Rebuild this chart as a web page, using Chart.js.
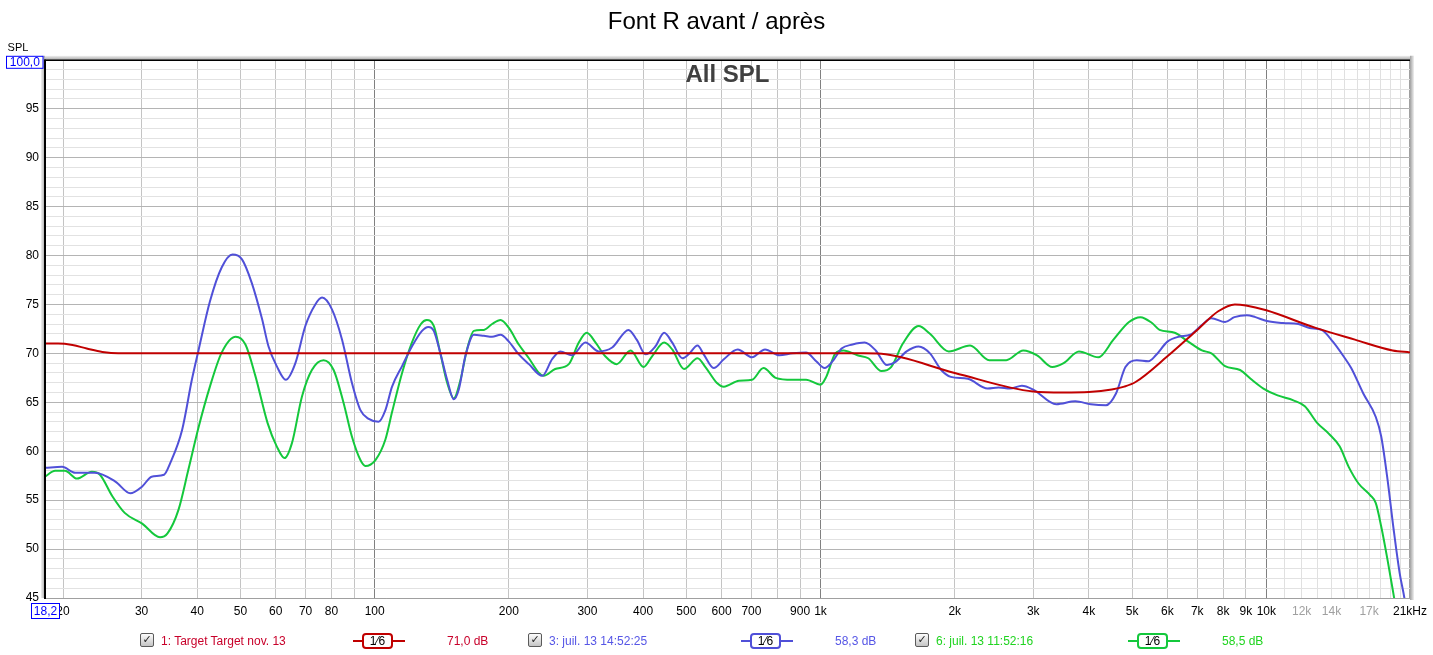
<!DOCTYPE html>
<html><head><meta charset="utf-8">
<script src="https://cdn.jsdelivr.net/npm/chart.js@4.4.0/dist/chart.umd.min.js"></script>
<style>
html,body{margin:0;padding:0;background:#fff;}
#wrap{position:relative;width:1433px;height:655px;overflow:hidden;font-family:"Liberation Sans",Arial,sans-serif;}
#c{position:absolute;left:0;top:0;}
.lt{position:absolute;font-size:12px;line-height:14px;white-space:nowrap;top:634px;}
.cb{position:absolute;top:633px;width:12px;height:12px;border:1px solid #5a5a5a;border-radius:2px;background:linear-gradient(#fdfdfd,#c4c4c4);font:bold 11px "DejaVu Sans",sans-serif;text-align:center;line-height:12px;color:#222;}
.ln{position:absolute;top:640px;height:2px;}
.bx{position:absolute;top:633px;width:27px;height:12px;background:#fff;border:2px solid;border-radius:4px;font-size:12px;line-height:13px;text-align:center;color:#000;}
</style></head>
<body><div id="wrap"><canvas id="c" width="1433" height="655"></canvas></div>
<script>
// ---------- data ----------
const chartTitle = 'Font R avant / après';
const panelLabel = 'All SPL';
const yUnit = 'SPL';
const xMinLabel = '18,2';
const yMaxLabel = '100,0';

const targetFreq = [18.22, 19.5, 21, 22.6, 24.5, 26.6, 1250, 1370, 2000, 3000, 3500, 4000, 4500, 4800, 5100, 6000, 7000, 7800, 8500, 9000, 10000, 12900, 15800, 19200, 21000];
const targetDb   = [71.0, 71.0, 70.85, 70.5, 70.15, 70.0, 70.0, 69.95, 68.0, 66.1, 66.0, 66.05, 66.3, 66.6, 67.1, 69.7, 72.4, 74.3, 75.0, 74.9, 74.4, 72.6, 71.4, 70.3, 70.1];

const blueFreq = [18.22, 19.9, 21.3, 23.6, 26.2, 28.3, 30.1, 31.6, 33.7, 34.8, 37.0, 38.9, 40.3, 42.7, 45.4, 48.0, 50.4, 53.0, 55.9, 57.8, 60.3, 63.2, 66.4, 69.9, 73.6, 76.2, 80.2, 84.5, 88.9, 92.9, 97.0, 102, 105.7, 109.4, 115.2, 121.2, 127.7, 131.9, 135.7, 140.4, 145.4, 150.5, 154.4, 159.7, 166.9, 175.8, 183.4, 191.6, 200, 210.5, 221.8, 237.6, 250, 260.8, 277, 297, 318, 341, 371, 387, 405, 426, 446, 465, 490, 506, 530, 547, 576, 607, 652, 702, 751, 808, 865, 928, 978, 1021, 1065, 1115, 1180, 1256, 1330, 1410, 1470, 1560, 1660, 1760, 1865, 1960, 2140, 2370, 2510, 2660, 2830, 3000, 3380, 3730, 4040, 4370, 4600, 4830, 5120, 5440, 5650, 6000, 6360, 6750, 7170, 7530, 8080, 8480, 9040, 9450, 10030, 10900, 11800, 12500, 13300, 14100, 14900, 15500, 16500, 17600, 18100, 18700, 19300, 19900, 20400, 20700];
const blueDb   = [58.3, 58.4, 57.8, 57.8, 56.9, 55.7, 56.4, 57.4, 57.6, 58.8, 62.2, 67.3, 70.4, 75.3, 78.8, 80.1, 79.6, 77.2, 73.5, 70.7, 68.7, 67.3, 69.0, 72.8, 75.0, 75.7, 74.5, 71.4, 67.0, 64.2, 63.3, 63.0, 64.2, 66.6, 68.7, 70.7, 72.3, 72.7, 72.3, 70.0, 67.3, 65.3, 66.3, 69.7, 71.9, 71.8, 71.7, 71.9, 71.2, 69.9, 68.9, 67.7, 69.4, 70.2, 69.8, 71.1, 70.2, 70.6, 72.4, 71.4, 69.9, 70.7, 72.1, 71.1, 69.5, 69.9, 70.8, 69.9, 68.5, 69.4, 70.4, 69.6, 70.4, 69.8, 70.0, 70.1, 69.2, 68.5, 69.2, 70.5, 70.9, 71.1, 70.3, 68.8, 69.1, 70.2, 70.7, 70.0, 68.3, 67.6, 67.4, 66.4, 66.5, 66.4, 66.7, 66.3, 64.8, 65.1, 64.8, 64.7, 65.9, 68.6, 69.3, 69.2, 69.8, 71.2, 71.7, 71.9, 72.9, 73.6, 73.2, 73.7, 73.9, 73.7, 73.3, 73.1, 73.0, 72.6, 72.4, 71.2, 69.7, 68.5, 65.9, 63.5, 61.5, 57.1, 52.0, 47.6, 45.0, 43.0];

const greenFreq = [18.22, 19.2, 20.2, 21.5, 23.2, 24.2, 25.8, 27.5, 30.1, 33.0, 34.3, 36.3, 38.2, 40.3, 42.7, 45.4, 48.8, 51.3, 54.0, 57.5, 60.3, 62.8, 65.2, 68.7, 72.3, 76.8, 80.9, 85.2, 88.9, 92.9, 95.3, 100.4, 105.7, 109.4, 115.2, 121.2, 127, 130.9, 135.7, 140.4, 145.4, 150.5, 155.8, 161.1, 166.9, 175.8, 183.4, 191.6, 200, 210.5, 221.8, 233.6, 239.3, 254, 272.6, 287, 299, 313, 329, 349, 375, 401, 419, 446, 465, 494, 530, 552, 585, 607, 656, 702, 745, 793, 865, 928, 1000, 1030, 1080, 1126, 1210, 1280, 1370, 1440, 1530, 1660, 1760, 1940, 2165, 2390, 2610, 2850, 3060, 3310, 3510, 3800, 4200, 4540, 4920, 5220, 5540, 5760, 6230, 6680, 7170, 7530, 8080, 8730, 9280, 9850, 10600, 11500, 12200, 13000, 13800, 14600, 15300, 16100, 17100, 17600, 18100, 18700, 19300, 19600];
const greenDb   = [57.4, 58.0, 58.0, 57.2, 57.9, 57.6, 55.4, 53.7, 52.6, 51.2, 51.6, 54.0, 58.1, 62.5, 66.6, 70.1, 71.7, 70.9, 67.7, 62.9, 60.5, 59.3, 60.8, 65.6, 68.3, 69.3, 68.3, 64.9, 61.5, 59.1, 58.5, 59.1, 61.2, 64.0, 68.0, 71.1, 73.0, 73.4, 72.8, 70.0, 67.0, 65.4, 67.3, 70.4, 72.3, 72.4, 73.0, 73.4, 72.6, 70.9, 69.5, 68.0, 67.7, 68.4, 68.9, 71.1, 72.1, 71.1, 69.7, 68.9, 70.3, 68.6, 69.7, 71.1, 70.4, 68.4, 69.5, 68.6, 67.0, 66.6, 67.2, 67.3, 68.5, 67.5, 67.3, 67.3, 66.8, 67.6, 70.0, 70.3, 69.8, 69.5, 68.2, 68.6, 71.0, 72.8, 72.0, 70.2, 70.8, 69.3, 69.3, 70.3, 69.8, 68.6, 69.0, 70.2, 69.6, 71.4, 73.2, 73.7, 73.1, 72.4, 72.1, 71.2, 70.3, 70.0, 68.7, 68.3, 67.3, 66.4, 65.7, 65.2, 64.6, 62.9, 61.8, 60.5, 58.4, 56.7, 55.5, 54.7, 52.3, 48.9, 45.3, 43.5];

const xTickValues = [20,30,40,50,60,70,80,90,100,200,300,400,500,600,700,800,900,1000,2000,3000,4000,5000,6000,7000,8000,9000,10000,11000,12000,13000,14000,15000,16000,17000,18000,19000,20000,21000];
const xTickLabels = {20:'20',30:'30',40:'40',50:'50',60:'60',70:'70',80:'80',100:'100',200:'200',300:'300',400:'400',500:'500',600:'600',700:'700',900:'900',1000:'1k',2000:'2k',3000:'3k',4000:'4k',5000:'5k',6000:'6k',7000:'7k',8000:'8k',9000:'9k',10000:'10k',12000:'12k',14000:'14k',17000:'17k',21000:'21kHz'};
const xGrayLabels = [12000,14000,17000];

const seriesNames  = ['1: Target Target nov. 13', '3: juil. 13 14:52:25', '6: juil. 13 11:52:16'];
const seriesLevels = ['71,0 dB', '58,3 dB', '58,5 dB'];
const smoothing = '1\u20446';

// ---------- styles ----------
const lineColors = ['#c00000', '#5050d8', '#14c83c'];
const textColors = ['#c8002a', '#5656e6', '#20d420'];
const FONT = '"Liberation Sans", Arial, sans-serif';

const pts = (f, d) => f.map((x, i) => ({x: x, y: d[i]}));

const frame = {
  id: 'frame',
  beforeDatasetsDraw(chart) {
    const {ctx, chartArea: a} = chart;
    ctx.save();
    ctx.font = 'bold 24px ' + FONT;
    ctx.fillStyle = '#404040';
    ctx.textAlign = 'center';
    ctx.textBaseline = 'middle';
    ctx.fillText(panelLabel, (a.left + a.right) / 2, a.top + 16);
    ctx.restore();
  },
  afterDraw(chart) {
    const {ctx, chartArea: a} = chart;
    const xs = chart.scales.x, ys = chart.scales.y;
    ctx.save();
    // shadows
    let g = ctx.createLinearGradient(0, a.top - 4, 0, a.top);
    g.addColorStop(0, '#f0f0f0'); g.addColorStop(1, '#a8a8a8');
    ctx.fillStyle = g; ctx.fillRect(a.left - 4, a.top - 4, a.right - a.left + 8, 4);
    g = ctx.createLinearGradient(a.left - 4, 0, a.left, 0);
    g.addColorStop(0, '#f0f0f0'); g.addColorStop(1, '#a8a8a8');
    ctx.fillStyle = g; ctx.fillRect(a.left - 4, a.top - 4, 4, a.bottom - a.top + 4);
    g = ctx.createLinearGradient(a.right, 0, a.right + 4, 0);
    g.addColorStop(0, '#a0a0a0'); g.addColorStop(1, '#f0f0f0');
    ctx.fillStyle = g; ctx.fillRect(a.right, a.top - 4, 4, a.bottom - a.top + 6);
    // top & left black border
    ctx.strokeStyle = '#000'; ctx.lineWidth = 1.5;
    ctx.beginPath(); ctx.moveTo(a.left - 1, a.top + 0.5); ctx.lineTo(a.right, a.top + 0.5); ctx.stroke();
    ctx.lineWidth = 2;
    ctx.beginPath(); ctx.moveTo(a.left, a.top); ctx.lineTo(a.left, a.bottom + 1); ctx.stroke();
    // unit label
    ctx.font = '11px ' + FONT; ctx.fillStyle = '#000';
    ctx.textAlign = 'center'; ctx.textBaseline = 'middle';
    ctx.fillText(yUnit, 18, a.top - 12);
    // boxed limit labels
    ctx.font = '12px ' + FONT;
    const yTop = ys.getPixelForValue(100);
    ctx.fillStyle = '#fff'; ctx.fillRect(6.5, yTop - 3.5, 36.5, 12);
    ctx.strokeStyle = '#0000ff'; ctx.lineWidth = 1;
    ctx.strokeRect(6.5, yTop - 3.5, 36.5, 12);
    ctx.fillStyle = '#0000ff'; ctx.fillText(yMaxLabel, 24.8, yTop + 2.8);
    const xl = xs.getPixelForValue(18.22);
    ctx.fillStyle = '#fff'; ctx.fillRect(xl - 13.5, a.bottom + 5.5, 28, 15);
    ctx.strokeRect(xl - 13.5, a.bottom + 5.5, 28, 15);
    ctx.fillStyle = '#0000ff'; ctx.fillText(xMinLabel, xl + 0.5, a.bottom + 13.5);
    ctx.restore();
  }
};

const chart = new Chart(document.getElementById('c'), {
  type: 'line',
  data: {
    datasets: [
      {label: seriesNames[0], data: pts(targetFreq, targetDb), borderColor: lineColors[0]},
      {label: seriesNames[1], data: pts(blueFreq, blueDb), borderColor: lineColors[1]},
      {label: seriesNames[2], data: pts(greenFreq, greenDb), borderColor: lineColors[2]}
    ].map(d => Object.assign(d, {borderWidth: 2, pointRadius: 0, fill: false, cubicInterpolationMode: 'monotone'}))
  },
  options: {
    responsive: false, animation: false, devicePixelRatio: 1,
    layout: {padding: {left: 0, right: 0, top: 0, bottom: 0}},
    plugins: {
      legend: {display: false}, tooltip: {enabled: false},
      title: {display: true, text: chartTitle, color: '#000', font: {family: FONT, size: 24, weight: 'normal', lineHeight: 1.2}, padding: {top: 8, bottom: 23}}
    },
    scales: {
      x: {
        type: 'logarithmic', min: 18.22, max: 21000,
        afterBuildTicks: s => { s.ticks = xTickValues.map(v => ({value: v})); },
        afterFit: s => { s.height = 57; },
        grid: {
          drawTicks: false,
          color: c => {
            const v = c.tick ? c.tick.value : 0;
            if (v === 100 || v === 1000 || v === 10000) return '#808080';
            if (v >= 21000) return '#a0a0a0';
            if (v > 10000) return '#e0e0e0';
            return '#c4c4c4';
          }
        },
        border: {display: true, color: '#a0a0a0', width: 1},
        ticks: {
          autoSkip: false, maxRotation: 0, minRotation: 0, padding: 6,
          font: {family: FONT, size: 12},
          color: c => (c.tick && xGrayLabels.includes(c.tick.value)) ? '#a0a0a0' : '#000',
          callback: v => xTickLabels[v] !== undefined ? xTickLabels[v] : ''
        }
      },
      y: {
        type: 'linear', min: 45, max: 100,
        afterBuildTicks: s => { const t = []; for (let v = 45; v <= 100; v++) t.push({value: v}); s.ticks = t; },
        afterFit: s => { s.width = 45; },
        grid: {drawTicks: false, color: c => (c.tick && c.tick.value % 5 === 0) ? '#b4b4b4' : '#e2e2e2'},
        border: {display: true, color: '#000', width: 2},
        ticks: {
          autoSkip: false, padding: 6, font: {family: FONT, size: 12}, color: '#000',
          callback: v => (v % 5 === 0 && v < 100) ? String(v) : ''
        }
      },
      yr: {
        type: 'linear', position: 'right', display: true,
        afterFit: s => { s.width = 23; },
        grid: {display: false}, border: {display: false}, ticks: {display: false}
      }
    }
  },
  plugins: [frame]
});

// ---------- legend row (HTML text) ----------
const wrap = document.getElementById('wrap');
const itemStarts = [140, 528, 915];
seriesNames.forEach((name, i) => {
  const x0 = itemStarts[i];
  const cb = document.createElement('div'); cb.className = 'cb'; cb.style.left = x0 + 'px'; cb.textContent = '\u2713'; wrap.appendChild(cb);
  const t = document.createElement('div'); t.className = 'lt'; t.style.left = (x0 + 21) + 'px'; t.style.color = textColors[i]; t.textContent = name; wrap.appendChild(t);
  const ln = document.createElement('div'); ln.className = 'ln'; ln.style.left = (x0 + 213) + 'px'; ln.style.width = '52px'; ln.style.background = lineColors[i]; wrap.appendChild(ln);
  const bx = document.createElement('div'); bx.className = 'bx'; bx.style.left = (x0 + 222) + 'px'; bx.style.borderColor = lineColors[i]; bx.textContent = smoothing; wrap.appendChild(bx);
  const lv = document.createElement('div'); lv.className = 'lt'; lv.style.left = (x0 + 307) + 'px'; lv.style.color = textColors[i]; lv.textContent = seriesLevels[i]; wrap.appendChild(lv);
});
</script>
</body></html>
